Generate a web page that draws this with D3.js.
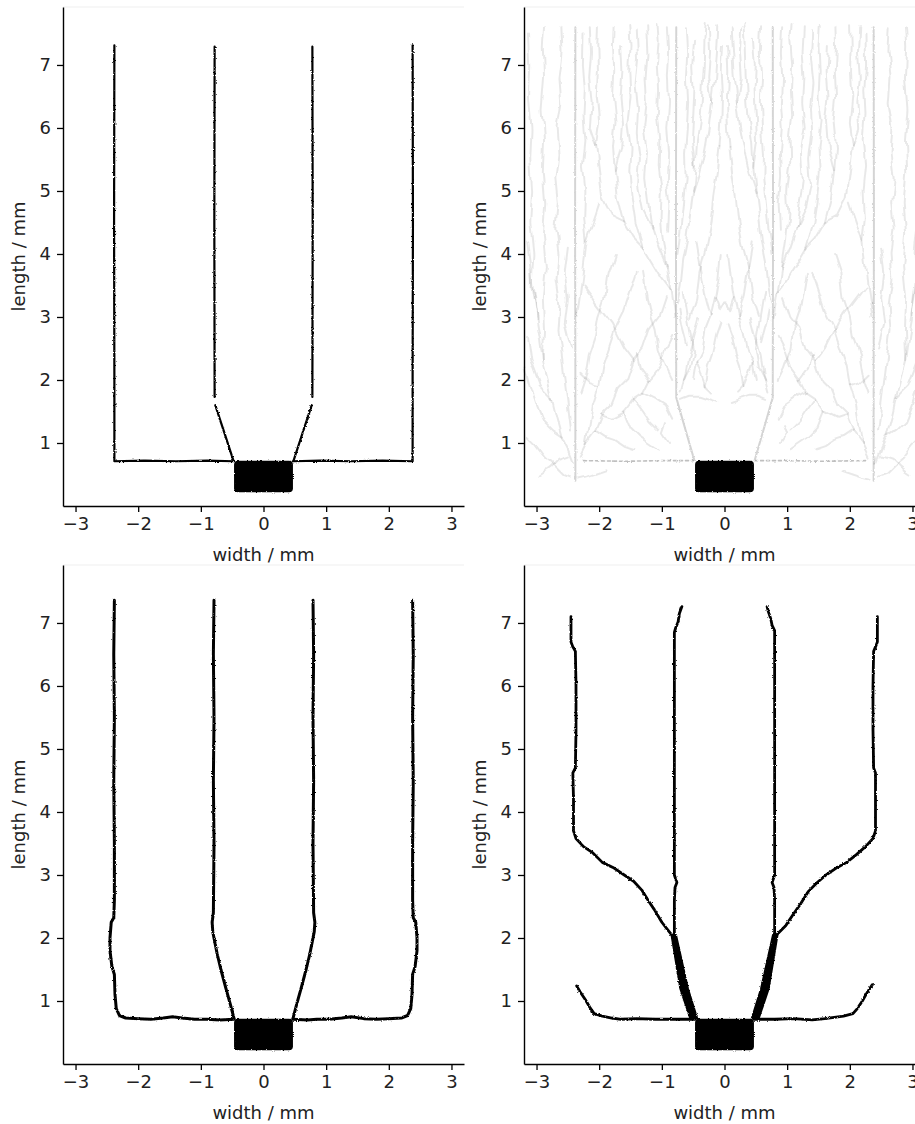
<!DOCTYPE html>
<html>
<head>
<meta charset="utf-8">
<script src="https://cdn.jsdelivr.net/npm/d3@7"></script>
<style>
    body { margin: 0; background: #fff; }
    svg text { font-family: "DejaVu Sans", sans-serif; fill: #222; }
</style>
</head>
<body>
<div id="chart"></div>
<script>
/* * * * * * * * * * * * * *
*       data (in mm)        *
* * * * * * * * * * * * * */

const xTicks = [-3, -2, -1, 0, 1, 2, 3];
const yTicks = [1, 2, 3, 4, 5, 6, 7];
const xDomain = [-3.2, 3.2];
const yDomain = [0, 7.92];

// electrode block, same in all four runs
const electrodeX = [-0.47, 0.47];
const electrodeY = [0.22, 0.72];

// run 1: clean cracks
const p1Lines = [
    [[-2.38, 7.31], [-2.385, 4.5], [-2.38, 2.0], [-2.38, 0.71], [-1.9, 0.72], [-1.4, 0.71], [-0.9, 0.72], [-0.47, 0.71]],
    [[2.38, 7.31], [2.385, 4.5], [2.38, 2.0], [2.38, 0.71], [1.9, 0.72], [1.4, 0.71], [0.9, 0.72], [0.47, 0.71]],
    [[-0.78, 7.29], [-0.785, 4.5], [-0.78, 1.73]],
    [[0.78, 7.29], [0.785, 4.5], [0.78, 1.73]],
    [[-0.77, 1.6], [-0.62, 1.15], [-0.48, 0.72]],
    [[0.77, 1.6], [0.62, 1.15], [0.48, 0.72]]
];

// run 2: main cracks (faint) plus the branching damage field
const p2Main = [
    [[-2.38, 7.6], [-2.385, 4.5], [-2.38, 2.0], [-2.38, 0.4]],
    [[2.38, 7.6], [2.385, 4.5], [2.38, 2.0], [2.38, 0.4]],
    [[-0.77, 7.6], [-0.775, 4.5], [-0.77, 1.72], [-0.62, 1.2], [-0.48, 0.72]],
    [[0.77, 7.6], [0.775, 4.5], [0.77, 1.72], [0.62, 1.2], [0.48, 0.72]]
];
const p2Dashed = [
    [[-2.25, 0.72], [-1.6, 0.71], [-1.0, 0.72], [-0.5, 0.72]],
    [[2.25, 0.72], [1.6, 0.71], [1.0, 0.72], [0.5, 0.72]]
];
// right half of the branch field; the picture is mirror symmetric about x = 0
const p2BranchesRight = [
    // inner fan, between the electrode axis and the inner crack
    [[0.76, 3.2], [0.7, 3.5], [0.66, 3.9], [0.6, 4.2], [0.55, 4.6], [0.5, 5.0], [0.46, 5.4], [0.44, 5.8], [0.38, 6.2], [0.35, 6.6], [0.33, 7.0], [0.32, 7.4], [0.3, 7.65]],
    [[0.75, 4.0], [0.7, 4.4], [0.66, 4.8], [0.62, 5.2], [0.63, 5.6], [0.6, 6.0], [0.58, 6.4], [0.6, 6.8], [0.58, 7.2], [0.6, 7.6]],
    [[0.5, 5.0], [0.4, 5.3], [0.32, 5.6], [0.25, 6.0], [0.2, 6.4], [0.15, 6.8], [0.12, 7.2], [0.1, 7.6]],
    [[0.55, 3.0], [0.45, 3.3], [0.4, 3.7], [0.3, 4.1], [0.22, 4.5], [0.18, 4.9], [0.12, 5.3], [0.08, 5.7]],
    [[0.46, 5.4], [0.52, 5.8], [0.5, 6.2], [0.48, 6.6], [0.5, 7.0], [0.47, 7.4]],
    [[0.2, 6.4], [0.26, 6.8], [0.23, 7.2], [0.25, 7.6]],
    [[0.08, 5.7], [0.05, 6.1], [0.04, 6.5], [0.06, 6.9], [0.04, 7.3]],
    // lower network near the axis
    [[0.5, 2.0], [0.45, 2.3], [0.35, 2.5], [0.3, 2.8], [0.22, 3.0], [0.15, 3.3], [0.1, 3.6], [0.06, 4.0]],
    [[0.7, 1.8], [0.62, 2.1], [0.58, 2.4], [0.5, 2.7], [0.42, 3.0]],
    [[0.3, 1.9], [0.25, 2.2], [0.18, 2.4], [0.12, 2.7], [0.05, 2.9]],
    [[0.65, 2.0], [0.55, 2.2], [0.5, 2.5], [0.55, 2.8], [0.6, 3.1], [0.65, 3.4]],
    [[0.45, 2.3], [0.38, 2.1], [0.3, 1.9], [0.2, 1.8]],
    [[0.22, 3.0], [0.3, 3.3], [0.35, 3.6], [0.4, 3.9], [0.45, 4.2]],
    [[0.15, 3.3], [0.08, 3.1], [0.02, 3.2]],
    [[0.6, 2.6], [0.68, 2.9], [0.72, 3.1]],
    [[0.1, 1.65], [0.25, 1.7], [0.4, 1.75], [0.55, 1.75], [0.68, 1.7]],
    // upper fan between inner and outer cracks
    [[0.8, 3.0], [0.86, 3.4], [0.92, 3.8], [0.98, 4.2], [1.02, 4.6], [1.0, 5.0], [1.05, 5.4], [1.04, 5.8], [1.08, 6.2], [1.06, 6.6], [1.08, 7.0], [1.05, 7.4], [1.07, 7.65]],
    [[0.92, 3.8], [1.05, 4.1], [1.15, 4.4], [1.2, 4.8], [1.25, 5.2], [1.22, 5.6], [1.28, 6.0], [1.24, 6.4], [1.26, 6.8], [1.23, 7.2], [1.25, 7.6]],
    [[0.85, 3.4], [1.0, 3.6], [1.15, 3.85], [1.3, 4.1], [1.42, 4.5], [1.48, 4.9], [1.52, 5.3], [1.5, 5.7], [1.55, 6.1], [1.5, 6.5], [1.52, 6.9], [1.5, 7.3], [1.52, 7.65]],
    [[1.3, 4.1], [1.45, 4.25], [1.6, 4.5], [1.7, 4.9], [1.75, 5.3], [1.78, 5.7], [1.74, 6.1], [1.78, 6.5], [1.76, 6.9], [1.78, 7.3], [1.77, 7.6]],
    [[1.6, 4.5], [1.8, 4.6], [1.95, 4.9], [2.0, 5.3], [2.05, 5.7], [2.0, 6.1], [2.04, 6.5], [2.02, 6.9], [2.03, 7.3], [2.02, 7.6]],
    [[2.36, 3.0], [2.3, 3.4], [2.25, 3.8], [2.2, 4.2], [2.24, 4.6], [2.22, 5.0], [2.26, 5.4], [2.22, 5.8], [2.25, 6.2], [2.23, 6.6], [2.26, 7.0], [2.25, 7.5]],
    [[2.2, 4.2], [2.1, 4.5], [2.0, 4.8]],
    [[0.9, 4.4], [0.88, 4.8], [0.92, 5.2], [0.9, 5.6], [0.93, 6.0], [0.9, 6.4], [0.92, 6.8], [0.9, 7.2], [0.92, 7.6]],
    [[1.15, 4.4], [1.3, 4.7], [1.38, 5.1], [1.35, 5.5], [1.4, 5.9], [1.38, 6.3], [1.42, 6.7], [1.38, 7.1], [1.4, 7.55]],
    [[1.75, 5.3], [1.65, 5.7], [1.62, 6.1], [1.66, 6.5], [1.63, 6.9], [1.65, 7.3]],
    [[2.05, 5.7], [2.15, 6.0], [2.12, 6.4], [2.16, 6.8], [2.13, 7.2], [2.15, 7.6]],
    // lower network between inner and outer cracks
    [[2.3, 0.8], [2.2, 1.0], [2.05, 1.2], [1.95, 1.45], [1.8, 1.6], [1.7, 1.85], [1.55, 2.0], [1.45, 2.3], [1.3, 2.5], [1.2, 2.8], [1.05, 3.0], [0.95, 3.3]],
    [[2.2, 1.0], [2.15, 1.3], [2.1, 1.6], [2.0, 1.9], [1.95, 2.2], [1.85, 2.5], [1.75, 2.8], [1.6, 3.1], [1.5, 3.4], [1.4, 3.7]],
    [[1.95, 1.45], [1.8, 1.4], [1.6, 1.5], [1.45, 1.7], [1.3, 1.8], [1.2, 2.0], [1.05, 2.2], [0.95, 2.5], [0.85, 2.7]],
    [[2.3, 1.8], [2.2, 2.1], [2.15, 2.4], [2.05, 2.7], [2.0, 3.0], [1.9, 3.3], [1.85, 3.7], [1.75, 4.0]],
    [[1.6, 1.5], [1.5, 1.25], [1.35, 1.1], [1.2, 1.0], [1.05, 0.9]],
    [[1.3, 1.8], [1.1, 1.7], [0.95, 1.6], [0.85, 1.4]],
    [[0.85, 2.0], [0.95, 2.2], [1.05, 2.5], [1.1, 2.8], [1.2, 3.1], [1.25, 3.4], [1.3, 3.7]],
    [[1.45, 2.3], [1.6, 2.5], [1.7, 2.7], [1.8, 2.9], [1.95, 3.1], [2.1, 3.3], [2.25, 3.5]],
    [[1.2, 2.0], [1.35, 2.2], [1.4, 2.4]],
    [[2.0, 1.9], [2.15, 1.95], [2.3, 2.1]],
    [[1.05, 1.2], [1.2, 1.35], [1.3, 1.5], [1.45, 1.7]],
    [[2.05, 1.2], [1.9, 1.1], [1.75, 1.05], [1.6, 0.95], [1.45, 0.9]],
    [[0.9, 1.0], [1.0, 1.15], [0.95, 1.3]],
    [[1.9, 0.55], [2.05, 0.5], [2.2, 0.45], [2.33, 0.42]],
    // outside the outer crack
    [[2.42, 0.7], [2.5, 0.9], [2.6, 1.1], [2.68, 1.4], [2.75, 1.7], [2.82, 2.0], [2.9, 2.3], [2.95, 2.7], [3.0, 3.0], [3.05, 3.4], [3.1, 3.8], [3.15, 4.2]],
    [[2.45, 1.2], [2.5, 1.6], [2.55, 2.0], [2.6, 2.4], [2.65, 2.8], [2.62, 3.2], [2.68, 3.6], [2.65, 4.0], [2.7, 4.4], [2.66, 4.8], [2.7, 5.2], [2.65, 5.6], [2.68, 6.0], [2.62, 6.4], [2.65, 6.8], [2.6, 7.2], [2.62, 7.6]],
    [[2.9, 2.3], [2.88, 2.8], [2.9, 3.3], [2.85, 3.8], [2.9, 4.3], [2.86, 4.8], [2.9, 5.3], [2.88, 5.8], [2.92, 6.3], [2.88, 6.8], [2.9, 7.3], [2.88, 7.6]],
    [[2.6, 1.1], [2.75, 1.2], [2.9, 1.35], [3.0, 1.6], [3.1, 1.9], [3.18, 2.2]],
    [[2.45, 0.45], [2.58, 0.5], [2.7, 0.62], [2.85, 0.75], [3.0, 0.95], [3.15, 1.1]],
    [[2.45, 2.5], [2.55, 2.9], [2.5, 3.3], [2.55, 3.7], [2.5, 4.1]],
    [[3.0, 3.0], [3.08, 3.5], [3.05, 4.0], [3.1, 4.5], [3.07, 5.0], [3.1, 5.5], [3.08, 6.0], [3.12, 6.5], [3.1, 7.0], [3.12, 7.5]],
    [[2.75, 1.7], [2.95, 1.9], [3.1, 2.3], [3.15, 2.7]],
    [[2.5, 0.8], [2.65, 0.75], [2.8, 0.6], [2.95, 0.5]]
];

// run 3: rougher cracks
const p3Lines = [
    [[-2.38, 7.36], [-2.39, 6.5], [-2.38, 5.5], [-2.39, 4.5], [-2.38, 3.5], [-2.38, 2.6], [-2.39, 2.32], [-2.43, 2.25], [-2.45, 2.0], [-2.45, 1.8], [-2.42, 1.55], [-2.38, 1.42], [-2.37, 1.1], [-2.35, 0.88], [-2.3, 0.77], [-2.2, 0.73], [-2.0, 0.72], [-1.8, 0.71], [-1.6, 0.73], [-1.45, 0.75], [-1.3, 0.73], [-1.1, 0.71], [-0.9, 0.71], [-0.7, 0.70], [-0.47, 0.71]],
    [[2.38, 7.36], [2.39, 6.5], [2.38, 5.5], [2.39, 4.5], [2.38, 3.5], [2.38, 2.6], [2.39, 2.32], [2.43, 2.25], [2.45, 2.0], [2.45, 1.8], [2.42, 1.55], [2.38, 1.42], [2.37, 1.1], [2.35, 0.88], [2.3, 0.77], [2.2, 0.73], [2.0, 0.72], [1.8, 0.71], [1.6, 0.72], [1.4, 0.75], [1.25, 0.73], [1.05, 0.71], [0.85, 0.71], [0.7, 0.70], [0.47, 0.71]],
    [[-0.79, 7.36], [-0.8, 6.5], [-0.79, 5.5], [-0.8, 4.5], [-0.79, 3.5], [-0.8, 2.4], [-0.82, 2.25], [-0.81, 2.1], [-0.78, 1.95], [-0.74, 1.75], [-0.68, 1.5], [-0.6, 1.2], [-0.53, 0.95], [-0.47, 0.72]],
    [[0.79, 7.36], [0.8, 6.5], [0.79, 5.5], [0.8, 4.5], [0.79, 3.5], [0.8, 2.4], [0.82, 2.25], [0.81, 2.1], [0.78, 1.95], [0.74, 1.75], [0.68, 1.5], [0.6, 1.2], [0.53, 0.95], [0.47, 0.72]]
];

// run 4: kinked cracks
const p4Lines = [
    [[-2.45, 7.1], [-2.45, 6.7], [-2.42, 6.62], [-2.38, 6.55], [-2.37, 6.0], [-2.37, 5.3], [-2.38, 4.7], [-2.42, 4.62], [-2.41, 4.2], [-2.41, 3.7], [-2.37, 3.58], [-2.25, 3.45], [-2.1, 3.35], [-1.95, 3.2], [-1.78, 3.12], [-1.6, 3.0], [-1.45, 2.9], [-1.32, 2.76], [-1.22, 2.6], [-1.12, 2.45], [-1.0, 2.25], [-0.9, 2.12], [-0.82, 2.02]],
    [[2.44, 7.1], [2.44, 6.7], [2.41, 6.62], [2.38, 6.55], [2.37, 6.0], [2.37, 5.3], [2.38, 4.7], [2.41, 4.62], [2.41, 4.2], [2.41, 3.7], [2.37, 3.58], [2.25, 3.45], [2.1, 3.32], [1.95, 3.2], [1.8, 3.12], [1.62, 3.0], [1.48, 2.88], [1.34, 2.74], [1.22, 2.55], [1.1, 2.38], [0.98, 2.2], [0.88, 2.1], [0.8, 2.02]],
    [[-0.68, 7.26], [-0.72, 7.15], [-0.74, 7.02], [-0.78, 6.92], [-0.8, 6.85], [-0.8, 6.0], [-0.8, 5.0], [-0.8, 4.0], [-0.8, 3.0], [-0.76, 2.88], [-0.79, 2.8], [-0.8, 2.6], [-0.8, 2.05]],
    [[0.68, 7.26], [0.7, 7.18], [0.74, 7.06], [0.76, 6.96], [0.8, 6.88], [0.8, 6.0], [0.8, 5.0], [0.8, 4.0], [0.8, 3.0], [0.76, 2.88], [0.79, 2.8], [0.8, 2.6], [0.8, 2.05]],
    [[-2.36, 1.24], [-2.3, 1.14], [-2.22, 1.02], [-2.15, 0.9], [-2.08, 0.8], [-1.95, 0.76], [-1.8, 0.73], [-1.65, 0.71], [-1.4, 0.72], [-1.1, 0.71], [-0.8, 0.71], [-0.47, 0.71]],
    [[2.36, 1.26], [2.28, 1.14], [2.2, 1.0], [2.12, 0.88], [2.05, 0.8], [1.9, 0.76], [1.75, 0.74], [1.6, 0.72], [1.4, 0.7], [1.1, 0.72], [0.8, 0.71], [0.47, 0.71]]
];
const p4Wedges = [
    [[-0.85, 2.05], [-0.77, 2.05], [-0.58, 1.2], [-0.43, 0.72], [-0.55, 0.72], [-0.71, 1.2]],
    [[0.85, 2.05], [0.77, 2.05], [0.58, 1.2], [0.43, 0.72], [0.55, 0.72], [0.71, 1.2]]
];


/* * * * * * * * * * * * * *
*       class Panel         *
* * * * * * * * * * * * * */

class Panel {

    constructor(svg, left, top, layers) {
        this.svg = svg;
        this.left = left;
        this.top = top;
        this.layers = layers;

        this.initVis();
    }

    initVis() {
        let vis = this;

        vis.width = 401;
        vis.height = 499;

        vis.g = vis.svg.append("g")
            .attr("transform", `translate(${vis.left}, ${vis.top})`);

        vis.x = d3.scaleLinear().domain(xDomain).range([0, vis.width]);
        vis.y = d3.scaleLinear().domain(yDomain).range([vis.height, 0]);

        vis.line = d3.line()
            .x(d => vis.x(d[0]))
            .y(d => vis.y(d[1]));

        // faint top frame line
        vis.g.append("line")
            .attr("x1", 0).attr("x2", vis.width)
            .attr("y1", 0).attr("y2", 0)
            .attr("stroke", "#efefef");

        vis.updateVis();
    }

    updateVis() {
        let vis = this;

        vis.layers.forEach(layer => {
            vis.g.append("g")
                .attr("filter", layer.filter || "url(#rough)")
                .selectAll("path")
                .data(layer.paths)
                .join("path")
                .attr("d", d => vis.line(d) + (layer.fill ? "Z" : ""))
                .attr("fill", layer.fill ? layer.color : "none")
                .attr("stroke", layer.color)
                .attr("stroke-width", layer.width)
                .attr("stroke-opacity", layer.opacity || 1)
                .attr("stroke-dasharray", layer.dash || null)
                .attr("stroke-linejoin", "round")
                .attr("stroke-linecap", "round");
        });

        // electrode block
        vis.g.append("rect")
            .attr("filter", "url(#rough)")
            .attr("x", vis.x(electrodeX[0]))
            .attr("y", vis.y(electrodeY[1]))
            .attr("width", vis.x(electrodeX[1]) - vis.x(electrodeX[0]))
            .attr("height", vis.y(electrodeY[0]) - vis.y(electrodeY[1]))
            .attr("rx", 4)
            .attr("fill", "#000");

        // axes
        let xAxis = vis.g.append("g")
            .attr("transform", `translate(0, ${vis.height})`)
            .call(d3.axisBottom(vis.x).tickValues(xTicks).tickFormat(d3.format("d"))
                .tickSize(6).tickSizeOuter(0).tickPadding(5));
        let yAxis = vis.g.append("g")
            .call(d3.axisLeft(vis.y).tickValues(yTicks).tickFormat(d3.format("d"))
                .tickSize(6).tickSizeOuter(0).tickPadding(6));

        [xAxis, yAxis].forEach(a => {
            a.select(".domain").attr("stroke", "#000").attr("stroke-width", 1.4);
            a.selectAll(".tick line").attr("stroke", "#000").attr("stroke-width", 1.3);
            a.selectAll(".tick text")
                .attr("font-family", "DejaVu Sans")
                .attr("font-size", 18)
                .attr("fill", "#222");
        });

        vis.g.append("text")
            .text("width / mm")
            .attr("x", vis.width / 2)
            .attr("y", vis.height + 55)
            .attr("text-anchor", "middle")
            .attr("font-size", 18);

        vis.g.append("text")
            .text("length / mm")
            .attr("transform", `translate(-38, ${vis.height / 2}) rotate(-90)`)
            .attr("text-anchor", "middle")
            .attr("font-size", 18);
    }
}


let svg = d3.select("#chart").append("svg")
    .attr("width", 915)
    .attr("height", 1124);

// roughness filters: ragged crack edges, wavier damage branches
let defs = svg.append("defs");
defs.append("filter")
    .attr("id", "rough")
    .attr("filterUnits", "userSpaceOnUse")
    .attr("x", -40).attr("y", -40).attr("width", 500).attr("height", 600)
    .call(f => {
        f.append("feTurbulence").attr("type", "fractalNoise")
            .attr("baseFrequency", 0.6).attr("numOctaves", 2).attr("seed", 4).attr("result", "n");
        f.append("feDisplacementMap").attr("in", "SourceGraphic").attr("in2", "n")
            .attr("scale", 2.5).attr("xChannelSelector", "R").attr("yChannelSelector", "G");
    });
defs.append("filter")
    .attr("id", "wavy")
    .attr("filterUnits", "userSpaceOnUse")
    .attr("x", -40).attr("y", -40).attr("width", 500).attr("height", 600)
    .call(f => {
        f.append("feTurbulence").attr("type", "fractalNoise")
            .attr("baseFrequency", 0.045).attr("numOctaves", 2).attr("seed", 7).attr("result", "n");
        f.append("feDisplacementMap").attr("in", "SourceGraphic").attr("in2", "n")
            .attr("scale", 9).attr("xChannelSelector", "R").attr("yChannelSelector", "G")
            .attr("result", "d");
        f.append("feGaussianBlur").attr("in", "d").attr("stdDeviation", 0.5);
    });

let p2Branches = p2BranchesRight.concat(p2BranchesRight.map(b => b.map(p => [-p[0], p[1]])));

new Panel(svg, 63, 7, [
    {paths: p1Lines, color: "#000", width: 2.2}
]);

new Panel(svg, 524, 7, [
    {paths: p2Branches, color: "#000", width: 2, opacity: 0.09, filter: "url(#wavy)"},
    {paths: p2Main, color: "#000", width: 2, opacity: 0.17},
    {paths: p2Dashed, color: "#000", width: 1.6, opacity: 0.25, dash: "3,3"}
]);

new Panel(svg, 63, 565, [
    {paths: p3Lines, color: "#000", width: 3}
]);

new Panel(svg, 524, 565, [
    {paths: p4Lines, color: "#000", width: 2.8},
    {paths: p4Wedges, color: "#000", width: 1.5, fill: true}
]);
</script>
</body>
</html>
